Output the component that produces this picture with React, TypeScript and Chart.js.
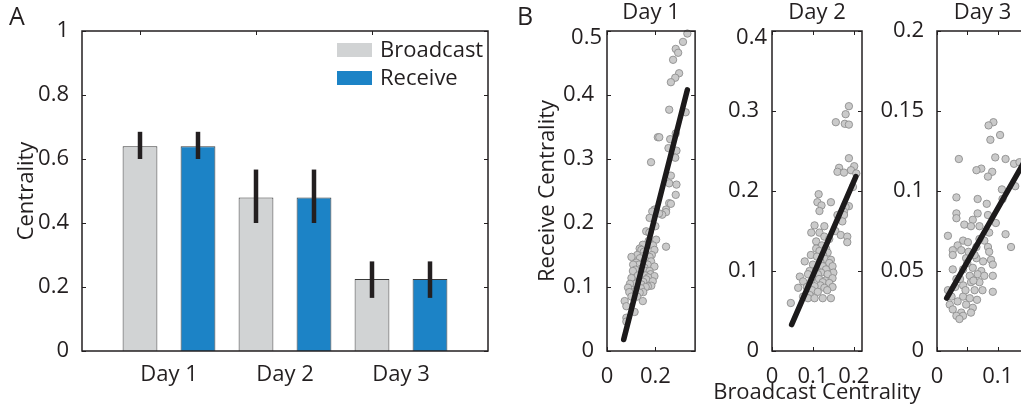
import React, { useEffect, useRef } from 'react';
import { Chart, registerables } from 'chart.js';

Chart.register(...registerables);

const FONT = '"Open Sans", "DejaVu Sans", sans-serif';
const INK = '#231f20';

// ---------- Panel A data ----------
const days = ['Day 1', 'Day 2', 'Day 3'];
const broadcastMean = [0.64, 0.48, 0.225];
const receiveMean = [0.64, 0.48, 0.225];
const errLow = [0.6, 0.4, 0.166];
const errHigh = [0.685, 0.567, 0.28];
const barYTicks = [0, 0.2, 0.4, 0.6, 0.8, 1];
const barYTickLabels = ['0', '0.2', '0.4', '0.6', '0.8', '1'];

// ---------- Panel B data ([broadcast, receive]) ----------
const day1Points = [
  [0.332, 0.496], [0.314, 0.483], [0.284, 0.472], [0.294, 0.466], [0.273, 0.455], [0.298, 0.434],
  [0.282, 0.427], [0.264, 0.42], [0.257, 0.377], [0.325, 0.373], [0.21, 0.334], [0.216, 0.334],
  [0.284, 0.34], [0.261, 0.331], [0.254, 0.317], [0.287, 0.313], [0.282, 0.302], [0.182, 0.295],
  [0.264, 0.274], [0.257, 0.262], [0.287, 0.26], [0.284, 0.244], [0.257, 0.231], [0.244, 0.221],
  [0.196, 0.221], [0.187, 0.218], [0.264, 0.23], [0.244, 0.217], [0.228, 0.213], [0.215, 0.215],
  [0.176, 0.208], [0.2, 0.195], [0.162, 0.187], [0.175, 0.185], [0.203, 0.174], [0.172, 0.172],
  [0.244, 0.163], [0.165, 0.165], [0.19, 0.165], [0.148, 0.166], [0.135, 0.16], [0.196, 0.158],
  [0.142, 0.158], [0.152, 0.155], [0.125, 0.15], [0.185, 0.15], [0.101, 0.147], [0.176, 0.147],
  [0.148, 0.148], [0.136, 0.145], [0.158, 0.142], [0.182, 0.14], [0.121, 0.138], [0.146, 0.137],
  [0.132, 0.135], [0.108, 0.135], [0.168, 0.135], [0.196, 0.132], [0.155, 0.13], [0.138, 0.128],
  [0.117, 0.127], [0.107, 0.125], [0.16, 0.125], [0.176, 0.125], [0.145, 0.12], [0.18, 0.12],
  [0.128, 0.118], [0.158, 0.118], [0.196, 0.117], [0.17, 0.115], [0.101, 0.114], [0.162, 0.112],
  [0.189, 0.109], [0.15, 0.108], [0.13, 0.108], [0.118, 0.105], [0.095, 0.105], [0.142, 0.104],
  [0.183, 0.102], [0.169, 0.101], [0.16, 0.1], [0.087, 0.099], [0.14, 0.098], [0.121, 0.096],
  [0.112, 0.092], [0.15, 0.092], [0.092, 0.092], [0.135, 0.091], [0.101, 0.085], [0.125, 0.085],
  [0.148, 0.078], [0.073, 0.078], [0.08, 0.07], [0.114, 0.061], [0.08, 0.052], [0.08, 0.046],
];
const day1Fit = [[0.069, 0.018], [0.332, 0.408]];

const day2Points = [
  [0.188, 0.306], [0.18, 0.296], [0.156, 0.286], [0.178, 0.284], [0.188, 0.283], [0.188, 0.241],
  [0.201, 0.231], [0.164, 0.229], [0.193, 0.226], [0.16, 0.224], [0.176, 0.223], [0.206, 0.222],
  [0.198, 0.205], [0.114, 0.196], [0.144, 0.186], [0.111, 0.186], [0.121, 0.182], [0.188, 0.181],
  [0.18, 0.18], [0.116, 0.175], [0.176, 0.174], [0.176, 0.17], [0.16, 0.17], [0.172, 0.162],
  [0.104, 0.157], [0.128, 0.156], [0.155, 0.15], [0.116, 0.148], [0.096, 0.148], [0.128, 0.143],
  [0.168, 0.145], [0.184, 0.143], [0.14, 0.14], [0.108, 0.137], [0.184, 0.136], [0.122, 0.132],
  [0.108, 0.128], [0.132, 0.128], [0.116, 0.125], [0.136, 0.123], [0.125, 0.12], [0.095, 0.12],
  [0.11, 0.118], [0.13, 0.115], [0.144, 0.114], [0.118, 0.112], [0.08, 0.112], [0.14, 0.11],
  [0.1, 0.108], [0.124, 0.106], [0.148, 0.106], [0.132, 0.102], [0.105, 0.1], [0.092, 0.1],
  [0.12, 0.098], [0.15, 0.098], [0.088, 0.096], [0.112, 0.096], [0.136, 0.096], [0.068, 0.093],
  [0.148, 0.091], [0.115, 0.09], [0.13, 0.088], [0.076, 0.087], [0.096, 0.087], [0.124, 0.086],
  [0.14, 0.085], [0.118, 0.082], [0.104, 0.081], [0.085, 0.08], [0.148, 0.08], [0.064, 0.079],
  [0.128, 0.079], [0.098, 0.076], [0.135, 0.076], [0.112, 0.074], [0.092, 0.07], [0.076, 0.068],
  [0.088, 0.066], [0.104, 0.066], [0.124, 0.066], [0.144, 0.066], [0.046, 0.06],
];
const day2Fit = [[0.048, 0.033], [0.205, 0.218]];

const day3Points = [
  [0.093, 0.143], [0.085, 0.141], [0.104, 0.135], [0.088, 0.132], [0.036, 0.12], [0.096, 0.121],
  [0.113, 0.12], [0.127, 0.117], [0.136, 0.118], [0.073, 0.114], [0.065, 0.113], [0.091, 0.112],
  [0.084, 0.109], [0.107, 0.101], [0.129, 0.103], [0.032, 0.096], [0.067, 0.095], [0.082, 0.092],
  [0.032, 0.086], [0.067, 0.086], [0.032, 0.083], [0.084, 0.085], [0.059, 0.082], [0.045, 0.079],
  [0.056, 0.078], [0.07, 0.078], [0.097, 0.08], [0.018, 0.072], [0.086, 0.074], [0.078, 0.069],
  [0.043, 0.069], [0.051, 0.068], [0.034, 0.066], [0.065, 0.065], [0.113, 0.073], [0.122, 0.065],
  [0.084, 0.065], [0.026, 0.063], [0.026, 0.06], [0.086, 0.062], [0.04, 0.063], [0.048, 0.058],
  [0.089, 0.057], [0.065, 0.058], [0.092, 0.054], [0.026, 0.051], [0.043, 0.051], [0.059, 0.052],
  [0.073, 0.05], [0.067, 0.048], [0.078, 0.047], [0.054, 0.047], [0.092, 0.047], [0.032, 0.045],
  [0.056, 0.043], [0.07, 0.043], [0.043, 0.041], [0.018, 0.038], [0.092, 0.037], [0.062, 0.038],
  [0.075, 0.038], [0.024, 0.034], [0.043, 0.034], [0.054, 0.033], [0.034, 0.031], [0.021, 0.029],
  [0.048, 0.029], [0.059, 0.027], [0.026, 0.026], [0.04, 0.024], [0.056, 0.024], [0.032, 0.022],
  [0.043, 0.022], [0.037, 0.02], [0.05, 0.055], [0.062, 0.06], [0.038, 0.045], [0.047, 0.038],
  [0.06, 0.044], [0.07, 0.07], [0.076, 0.056], [0.03, 0.04], [0.066, 0.032], [0.052, 0.062],
  [0.108, 0.095],
];
const day3Fit = [[0.016, 0.033], [0.148, 0.121]];

const day1XTicks = [0, 0.2];
const day1XLabels = ['0', '0.2'];
const day1YTicks = [0, 0.1, 0.2, 0.3, 0.4, 0.5];
const day1YLabels = ['0', '0.1', '0.2', '0.3', '0.4', '0.5'];
const day2XTicks = [0, 0.1, 0.2];
const day2XLabels = ['0', '0.1', '0.2'];
const day2YTicks = [0, 0.1, 0.2, 0.3, 0.4];
const day2YLabels = ['0', '0.1', '0.2', '0.3', '0.4'];
const day3XTicks = [0, 0.05, 0.1, 0.15];
const day3XLabels = ['0', '', '0.1', ''];
const day3YTicks = [0, 0.05, 0.1, 0.15, 0.2];
const day3YLabels = ['0', '0.05', '0.1', '0.15', '0.2'];

// ---------- plugins ----------
function makeFrame(customXTicks?: number[]) {
  return {
    id: 'frame',
    beforeDatasetsDraw(chart: any) {
      const { ctx, chartArea: a, scales } = chart;
      const len = 4;
      const xs = customXTicks ?? scales.x.ticks.map((t: any) => t.value);
      const ys = scales.y.ticks.map((t: any) => t.value);
      ctx.save();
      ctx.strokeStyle = INK;
      ctx.lineWidth = 1;
      ctx.beginPath();
      xs.forEach((v: number) => {
        const p = Math.round(scales.x.getPixelForValue(v)) + 0.5;
        ctx.moveTo(p, a.top);
        ctx.lineTo(p, a.top + len);
        ctx.moveTo(p, a.bottom);
        ctx.lineTo(p, a.bottom - len);
      });
      ys.forEach((v: number) => {
        const p = Math.round(scales.y.getPixelForValue(v)) + 0.5;
        ctx.moveTo(a.left, p);
        ctx.lineTo(a.left + len, p);
        ctx.moveTo(a.right, p);
        ctx.lineTo(a.right - len, p);
      });
      ctx.stroke();
      ctx.restore();
    },
    afterDraw(chart: any) {
      const { ctx, chartArea: a } = chart;
      ctx.save();
      ctx.strokeStyle = INK;
      ctx.lineWidth = 1.5;
      ctx.strokeRect(a.left, a.top, a.right - a.left, a.bottom - a.top);
      ctx.restore();
    },
  };
}

const errorBars = {
  id: 'errorBars',
  afterDatasetsDraw(chart: any) {
    const { ctx, scales } = chart;
    ctx.save();
    ctx.strokeStyle = INK;
    ctx.lineWidth = 4.5;
    ctx.lineCap = 'butt';
    chart.data.datasets.forEach((ds: any, di: number) => {
      const meta = chart.getDatasetMeta(di);
      meta.data.forEach((el: any, i: number) => {
        ctx.beginPath();
        ctx.moveTo(el.x, scales.y.getPixelForValue(ds.errLow[i]));
        ctx.lineTo(el.x, scales.y.getPixelForValue(ds.errHigh[i]));
        ctx.stroke();
      });
    });
    ctx.restore();
  },
};

const barLegend = {
  id: 'barLegend',
  afterDraw(chart: any) {
    const { ctx, chartArea: a } = chart;
    ctx.save();
    chart.data.datasets.forEach((ds: any, i: number) => {
      const x = a.right - 151;
      const y = a.top + 12 + i * 28;
      ctx.fillStyle = ds.backgroundColor;
      ctx.fillRect(x, y, 35, 14);
      ctx.fillStyle = INK;
      ctx.font = `22px ${FONT}`;
      ctx.textAlign = 'left';
      ctx.textBaseline = 'alphabetic';
      ctx.fillText(ds.label, x + 43, y + 13.7);
    });
    ctx.restore();
  },
};

const panelLetters = {
  id: 'panelLetters',
  afterDraw(chart: any) {
    const { ctx } = chart;
    ctx.save();
    ctx.fillStyle = INK;
    ctx.font = `25px ${FONT}`;
    ctx.textAlign = 'left';
    ctx.textBaseline = 'alphabetic';
    ctx.fillText('A', 9, 25);
    ctx.fillText('B', 517, 25);
    ctx.restore();
  },
};

// Extra texts of a scatter panel: a wide x-axis title and a lowered top y label
function makePanelTexts(xTitle?: string, topLabel?: string, topDrop = 0) {
  return {
    id: 'panelTexts',
    afterDraw(chart: any) {
      const { ctx, chartArea: a } = chart;
      ctx.save();
      ctx.fillStyle = INK;
      ctx.font = `22px ${FONT}`;
      ctx.textBaseline = 'middle';
      if (xTitle) {
        ctx.textAlign = 'center';
        ctx.fillText(xTitle, (a.left + a.right) / 2, 393);
      }
      if (topLabel) {
        ctx.textAlign = 'right';
        ctx.fillText(topLabel, a.left - 5, a.top + topDrop);
      }
      ctx.restore();
    },
  };
}

const tickFont = { family: FONT, size: 22 };

// ---------- configs ----------
function makeBarConfig(canvasWidth: number) {
  return {
    type: 'bar',
    data: {
      datasets: [
        {
          label: 'Broadcast',
          data: broadcastMean.map((y, i) => ({ x: i + 1, y })),
          backgroundColor: '#d1d3d4',
          borderColor: '#3a3a3a',
          borderWidth: 1,
          barPercentage: 0.6,
          categoryPercentage: 1,
          errLow,
          errHigh,
        },
        {
          label: 'Receive',
          data: receiveMean.map((y, i) => ({ x: i + 1, y })),
          backgroundColor: '#1c83c6',
          borderColor: '#3a3a3a',
          borderWidth: 1,
          barPercentage: 0.6,
          categoryPercentage: 1,
          errLow,
          errHigh,
        },
      ],
    },
    options: {
      animation: false,
      responsive: false,
      devicePixelRatio: 1,
      events: [],
      layout: { padding: { left: 0, top: 31, right: canvasWidth - 488, bottom: 0 } },
      plugins: { legend: { display: false }, tooltip: { enabled: false } },
      scales: {
        x: {
          type: 'linear',
          min: 0.25,
          max: 3.75,
          offset: false,
          afterBuildTicks: (s: any) => {
            s.ticks = days.map((_, i) => ({ value: i + 1 }));
          },
          afterFit: (s: any) => {
            s.height = 409 - 351;
          },
          grid: { display: false },
          border: { display: false },
          ticks: {
            callback: (_v: any, i: number) => days[i],
            font: tickFont,
            color: INK,
            padding: 3,
            maxRotation: 0,
            autoSkip: false,
          },
        },
        y: {
          min: 0,
          max: 1,
          afterBuildTicks: (s: any) => {
            s.ticks = barYTicks.map((v) => ({ value: v }));
          },
          afterFit: (s: any) => {
            s.width = 82;
          },
          grid: { display: false },
          border: { display: false },
          ticks: {
            callback: (_v: any, i: number) => barYTickLabels[i],
            font: tickFont,
            color: INK,
            padding: 5,
          },
          title: {
            display: true,
            text: 'Centrality',
            font: tickFont,
            color: INK,
            padding: { top: 14, bottom: 0 },
          },
        },
      },
    },
    plugins: [makeFrame(days.map((_, i) => i + 1 - 0.25)), errorBars, barLegend, panelLetters],
  };
}

interface ScatterSpec {
  title: string;
  points: number[][];
  fit: number[][];
  xMax: number;
  yMax: number;
  xTicks: number[];
  xLabels: string[];
  yTicks: number[];
  yLabels: string[];
  yWidth: number;
  canvasWidth: number;
  plotRight: number;
  yTitle?: string;
  yTitlePad?: number;
  xTitle?: string;
  topDrop?: number;
}

function makeScatterConfig(s: ScatterSpec) {
  const last = s.yTicks.length - 1;
  return {
    type: 'scatter',
    data: {
      datasets: [
        {
          data: s.fit.map(([x, y]) => ({ x, y })),
          showLine: true,
          borderColor: '#1c1a1b',
          borderWidth: 5.5,
          borderCapStyle: 'round',
          pointRadius: 0,
          clip: false,
        },
        {
          data: s.points.map(([x, y]) => ({ x, y })),
          pointRadius: 3.7,
          pointBackgroundColor: '#cacaca',
          pointBorderColor: '#8f8f8f',
          pointBorderWidth: 0.9,
          clip: false,
        },
      ],
    },
    options: {
      animation: false,
      responsive: false,
      devicePixelRatio: 1,
      events: [],
      layout: { padding: { left: 0, top: 0, right: s.canvasWidth - s.plotRight, bottom: 0 } },
      plugins: {
        legend: { display: false },
        tooltip: { enabled: false },
        title: {
          display: true,
          text: s.title,
          fullSize: false,
          color: INK,
          font: { family: FONT, size: 22, weight: 'normal', lineHeight: 1 },
          padding: { top: 2, bottom: 7 },
        },
      },
      scales: {
        x: {
          type: 'linear',
          min: 0,
          max: s.xMax,
          offset: false,
          afterBuildTicks: (sc: any) => {
            sc.ticks = s.xTicks.map((v) => ({ value: v }));
          },
          afterFit: (sc: any) => {
            sc.height = 409 - 351;
          },
          grid: { display: false },
          border: { display: false },
          ticks: {
            callback: (_v: any, i: number) => s.xLabels[i],
            font: tickFont,
            color: INK,
            padding: 5,
            maxRotation: 0,
            autoSkip: false,
          },
        },
        y: {
          type: 'linear',
          min: 0,
          max: s.yMax,
          afterBuildTicks: (sc: any) => {
            sc.ticks = s.yTicks.map((v) => ({ value: v }));
          },
          afterFit: (sc: any) => {
            sc.width = s.yWidth;
          },
          grid: { display: false },
          border: { display: false },
          ticks: {
            callback: (_v: any, i: number) => (s.topDrop && i === last ? '' : s.yLabels[i]),
            font: tickFont,
            color: INK,
            padding: 5,
            autoSkip: false,
          },
          title: {
            display: !!s.yTitle,
            text: s.yTitle || '',
            font: tickFont,
            color: INK,
            padding: { top: s.yTitlePad ?? 0, bottom: 0 },
          },
        },
      },
    },
    plugins: [
      makeFrame(),
      makePanelTexts(s.xTitle, s.topDrop ? s.yLabels[last] : undefined, s.topDrop || 0),
    ],
  };
}

function ChartCanvas({ make, left, width }: { make: () => any; left: number; width: number }) {
  const ref = useRef<HTMLCanvasElement>(null);
  useEffect(() => {
    const chart = new Chart(ref.current as HTMLCanvasElement, make());
    return () => chart.destroy();
  }, []);
  return (
    <canvas
      ref={ref}
      width={width}
      height={409}
      style={{ position: 'absolute', left, top: 0, width, height: 409, display: 'block' }}
    />
  );
}

export default function App() {
  return (
    <div
      style={{
        position: 'fixed',
        left: 0,
        top: 0,
        width: 1021,
        height: 409,
        overflow: 'hidden',
        background: '#ffffff',
      }}
    >
      <ChartCanvas left={0} width={540} make={() => makeBarConfig(540)} />
      <ChartCanvas
        left={700}
        width={240}
        make={() =>
          makeScatterConfig({
            title: 'Day 2',
            points: day2Points,
            fit: day2Fit,
            xMax: 0.22,
            yMax: 0.4,
            xTicks: day2XTicks,
            xLabels: day2XLabels,
            yTicks: day2YTicks,
            yLabels: day2YLabels,
            yWidth: 72,
            canvasWidth: 240,
            plotRight: 162,
            xTitle: 'Broadcast Centrality',
            topDrop: 7,
          })
        }
      />
      <ChartCanvas
        left={520}
        width={180}
        make={() =>
          makeScatterConfig({
            title: 'Day 1',
            points: day1Points,
            fit: day1Fit,
            xMax: 0.364,
            yMax: 0.5,
            xTicks: day1XTicks,
            xLabels: day1XLabels,
            yTicks: day1YTicks,
            yLabels: day1YLabels,
            yWidth: 87,
            canvasWidth: 180,
            plotRight: 177,
            yTitle: 'Receive Centrality',
            yTitlePad: 15,
            topDrop: 7,
          })
        }
      />
      <ChartCanvas
        left={860}
        width={180}
        make={() =>
          makeScatterConfig({
            title: 'Day 3',
            points: day3Points,
            fit: day3Fit,
            xMax: 0.15,
            yMax: 0.2,
            xTicks: day3XTicks,
            xLabels: day3XLabels,
            yTicks: day3YTicks,
            yLabels: day3YLabels,
            yWidth: 77,
            canvasWidth: 180,
            plotRight: 168,
          })
        }
      />
    </div>
  );
}
